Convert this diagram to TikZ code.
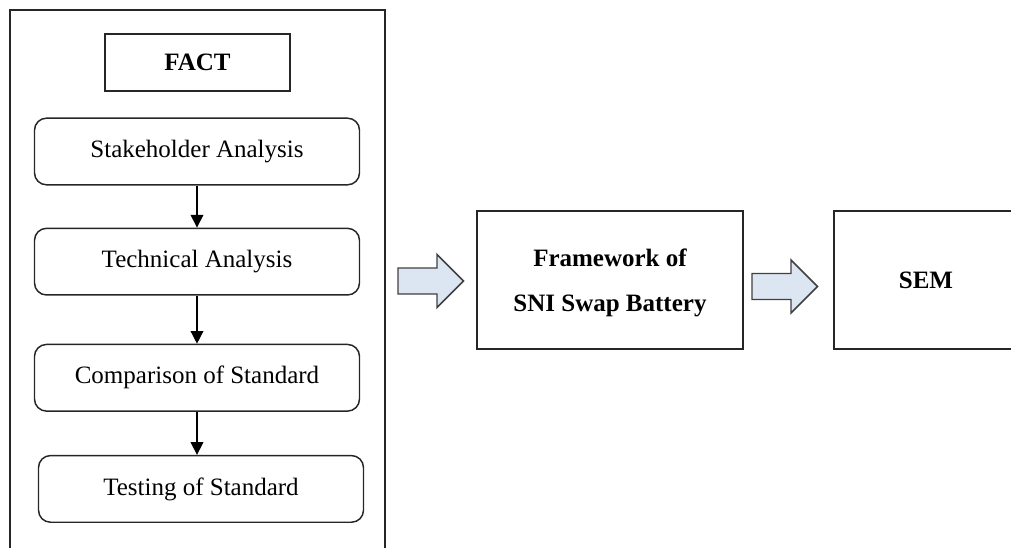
\documentclass[tikz,border=0pt]{standalone}
\usepackage{fontspec}
\setmainfont{Liberation Serif}
\usetikzlibrary{positioning, arrows.meta}

\definecolor{arrowfill}{RGB}{220,230,242}

\begin{document}
\begin{tikzpicture}[
    x=0.75pt, y=-0.75pt,
    font=\fontsize{18.75}{22}\selectfont,
    frame/.style={
        draw=black!85,
        line width=1.1pt,
        minimum width=281.25pt,
        minimum height=420pt
    },
    title/.style={
        draw=black!85,
        line width=1.1pt,
        font=\fontsize{18.75}{22}\selectfont\bfseries,
        minimum width=138.75pt,
        minimum height=42.75pt
    },
    stepbox/.style={
        draw=black!85,
        line width=1.1pt,
        rounded corners=9pt,
        minimum width=243.75pt,
        minimum height=50pt
    },
    resultbox/.style={
        draw=black!85,
        line width=1.1pt,
        font=\fontsize{18.75}{22}\selectfont\bfseries,
        align=center,
        minimum height=103.5pt
    },
    flow/.style={
        -{Triangle[width=9.5pt,length=9.5pt]},
        line width=1pt
    },
    bigarrow/.style={
        draw=black!75,
        fill=arrowfill,
        line width=1.1pt,
        line join=miter
    }
]

    \clip (0,0) rectangle (1011,547);

    % FACT column
    \node[frame] (factframe) at (197.5,290) {};
    \node[title] (fact) at (197.5,62.5) {FACT};
    \node[stepbox] (stake) at (197,151.5) {Stakeholder Analysis};
    \node[stepbox, below=31.5pt of stake] (tech) {Technical Analysis};
    \node[stepbox, below=36pt of tech] (comp) {Comparison of Standard};
    \node[stepbox, below=32.25pt of comp, xshift=3pt] (test) {Testing of Standard};

    \draw[flow] (stake.south) -- (tech.north);
    \draw[flow] (tech.south) -- (comp.north);
    \draw[flow] (comp.south) -- (comp.south |- test.north);

    % Result boxes
    \node[resultbox, minimum width=199.5pt] (framework) at (610,280)
        {\rule{0pt}{17pt}Framework of\\[11.75pt]SNI Swap Battery};
    \node[resultbox, minimum width=138pt] (sem) at (926,280) {SEM};

    % Block arrows
    \foreach \ax/\ay in {398/281, 752/286.5} {
        \draw[bigarrow] (\ax,\ay-13) -- ++(39,0) -- ++(0,-13.5) -- ++(26.5,26.5)
            -- ++(-26.5,26.5) -- ++(0,-13.5) -- ++(-39,0) -- cycle;
    }

\end{tikzpicture}
\end{document}
